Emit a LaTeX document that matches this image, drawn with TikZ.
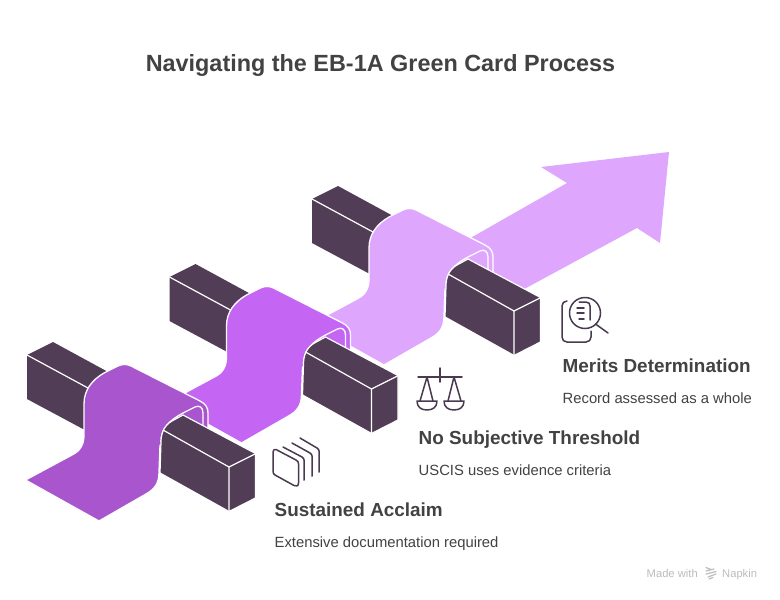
\documentclass[tikz,border=0pt]{standalone}
\usepackage{fontspec}
\setmainfont{Liberation Sans}
\definecolor{blockc}{HTML}{523D56}
\definecolor{bandone}{HTML}{A855CE}
\definecolor{bandtwo}{HTML}{C465F3}
\definecolor{bandthree}{HTML}{DFA6FE}
\definecolor{inkc}{HTML}{424242}
\definecolor{iconc}{HTML}{4A3A50}
\definecolor{footc}{HTML}{BDBDBD}
\tikzset{
  blockface/.style={fill=blockc,draw=none},
  blockedge/.style={draw=white,line width=1.2pt,line join=round},
  bandshape/.style={draw=white,line width=1.3pt,line join=round},
  iconline/.style={draw=iconc,line width=1.5pt,line cap=round,line join=round,fill=none},
  titletext/.style={anchor=base,inner sep=0pt,text=inkc,font=\fontsize{23.4}{28}\selectfont\bfseries},
  headtext/.style={anchor=base west,inner sep=0pt,text=inkc,font=\fontsize{18.9}{23}\selectfont\bfseries},
  subtext/.style={anchor=base west,inner sep=0pt,text=inkc,font=\fontsize{14.8}{18}\selectfont},
  foottext/.style={anchor=base west,inner sep=0pt,text=footc,font=\fontsize{11.2}{14}\selectfont}
}
\newcommand{\stagedraw}[3]{%
  \begin{scope}[shift={(#1,#2)}]
    % back block
    \path[blockface] (27,355) -- (53,342) -- (110,373) -- (90,430) -- (83,429) -- (27,399) -- cycle;
    \draw[blockedge] (27,355) -- (88,388);
    % band
    \path[bandshape,fill=#3] (25.5,480) -- (72,455) .. controls (80,451) and (84,445) .. (84,435)
      -- (84,404) .. controls (84,390) and (92,380) .. (104,373)
      -- (118,366) .. controls (122,364) and (127,364) .. (131,366)
      -- (200,401) .. controls (206,404) and (208,408) .. (208,413)
      -- (208,430) -- (195,440) -- (170,445) -- (160,445)
      -- (159,472) .. controls (159,483) and (155,489) .. (146,494)
      -- (99,521) -- cycle;
    \draw[bandshape] (203,428) -- (203,413) .. controls (203,407) and (199,405) .. (195,407)
      -- (183,413) .. controls (170,420) and (161,428) .. (161,442);
    % front block
    \path[blockface,blockedge,fill=blockc] (160,473) -- (229,511.5) -- (255.5,498) -- (255.5,453.5) -- (183,415)
      -- (172,421) .. controls (165,425) and (161,432) .. (161,442) -- cycle;
    \draw[blockedge] (163,430) -- (229,467) -- (229,511);
    \draw[blockedge] (229,467) -- (255,454);
  \end{scope}}
\begin{document}
\begin{tikzpicture}[x=1pt,y=-1pt]
\useasboundingbox (0,0) rectangle (780,600);
\fill[white] (0,0) rectangle (780,600);
% arrow head and shaft
\fill[bandthree] (669,152) -- (541,167) -- (567,183) -- (460,244) -- (515,294) -- (637,228) -- (660,243) -- cycle;
\stagedraw{285}{-156}{bandthree}
\stagedraw{142.5}{-78}{bandtwo}
\stagedraw{0}{0}{bandone}
% texts
\node[titletext] (title) at (380.5,71.2) {Navigating the EB-1A Green Card Process};
\node[headtext] (h3) at (562.5,372.4) {Merits Determination};
\node[subtext] (s3) at (562.5,403) {Record assessed as a whole};
\node[headtext] (h2) at (418.5,444.4) {No Subjective Threshold};
\node[subtext] (s2) at (418.5,475) {USCIS uses evidence criteria};
\node[headtext] (h1) at (274.5,516.4) {Sustained Acclaim};
\node[subtext] (s1) at (274.5,547) {Extensive documentation required};
\node[foottext] (f1) at (646.5,577) {Made with};
\node[foottext] (f2) at (722,577) {Napkin};
% footer logo
\draw[footc,line width=1.2pt,line cap=round] (706,567.5) -- (711,569.5) (706,571) -- (714,569) (706,574) -- (716,571.5) (708,577) -- (716,574) (709,579) -- (713,577.5);
% icon 3: document and magnifier
\draw[iconline] (585,313) circle (15.5);
\draw[iconline] (595.5,324) -- (608,333);
\draw[iconline] (567,301) .. controls (564,301) and (562,303) .. (562,306) -- (562,337) .. controls (562,340) and (564,342) .. (567,342) -- (586,342) .. controls (589,342) and (591,340) .. (591,337) -- (591,331);
\draw[iconline] (579,302) -- (586,302) .. controls (589,302) and (590,304) .. (590,306) -- (590,320);
\draw[iconline] (577,308) -- (584,308);
\draw[iconline] (577,313) -- (584,313);
\draw[iconline] (579,319) -- (584,319);
% icon 2: scales
\draw[iconline] (418,377) -- (462,377);
\draw[iconline] (440,368) -- (440,382);
\draw[iconline] (420,401) -- (427,377) -- (433,401);
\draw[iconline] (448,401) -- (454,377) -- (461,401);
\draw[iconline] (417,401) -- (437,401) .. controls (437,407) and (433,410) .. (427,410) .. controls (421,410) and (417,407) .. (417,401) -- cycle;
\draw[iconline] (444,401) -- (464,401) .. controls (464,407) and (460,410) .. (454,410) .. controls (448,410) and (444,407) .. (444,401) -- cycle;
% icon 1: stacked sheets
\draw[iconline] (276,449.5) -- (296,460) .. controls (298,461) and (298.5,462) .. (298.5,464) -- (298.5,483) .. controls (298.5,486) and (296,487) .. (294,485.5) -- (275,475) .. controls (273.5,474) and (273,473) .. (273,471) -- (273,452) .. controls (273,450) and (274.5,449) .. (276,449.5) -- cycle;
\draw[iconline] (283,447) -- (302,457) .. controls (303.5,458) and (304,459) .. (304,460) -- (304,480);
\draw[iconline] (292,443) -- (310,453) .. controls (311.5,454) and (312,455) .. (312,456) -- (312,476);
\draw[iconline] (300,438) -- (317,448) .. controls (318.5,449) and (319,450) .. (319,451) -- (319,472);
\end{tikzpicture}
\end{document}
